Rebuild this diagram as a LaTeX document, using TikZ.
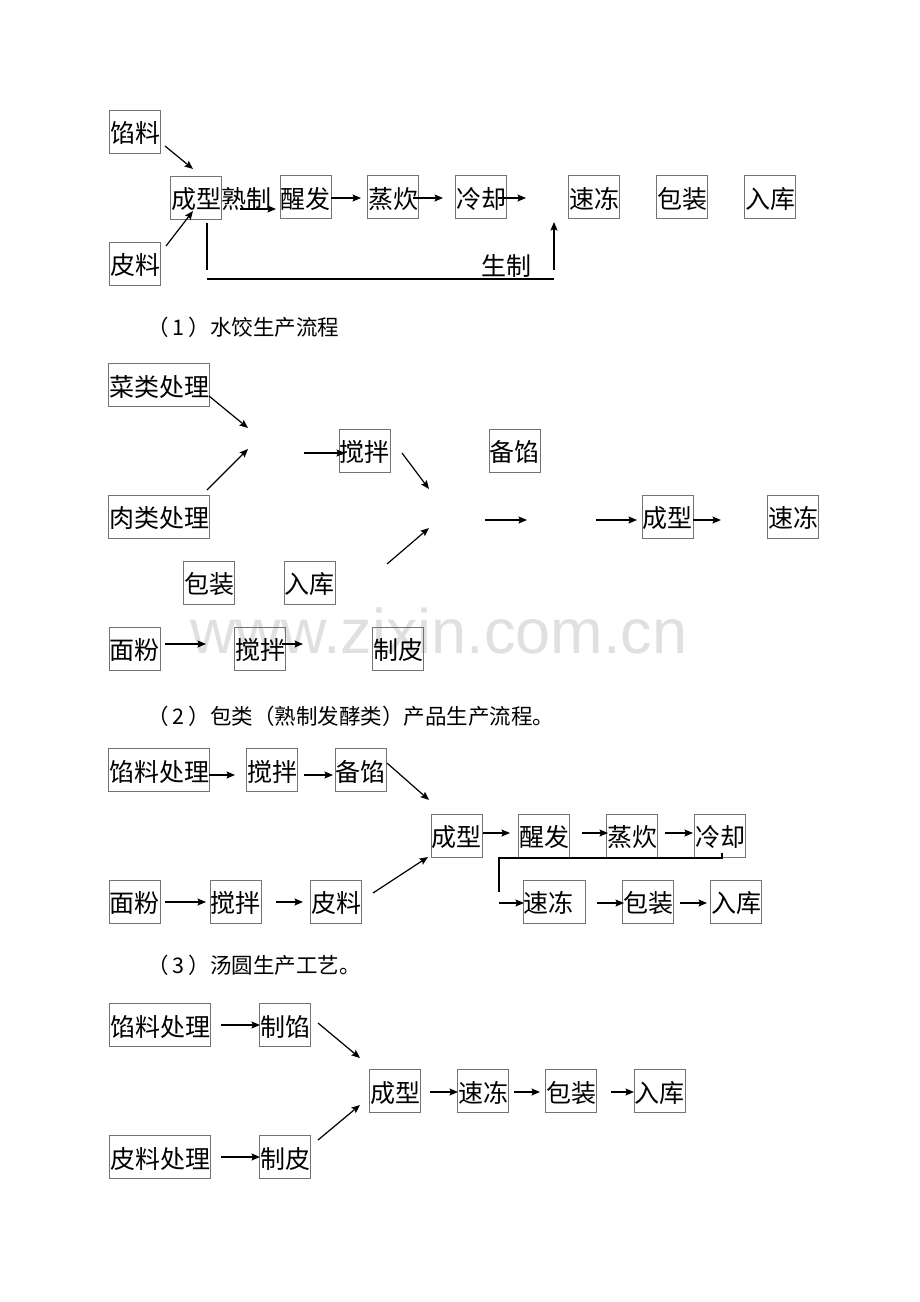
\documentclass[tikz,border=0pt]{standalone}
\usepackage{fontspec}
\newfontfamily\cjk{Noto Sans CJK SC}
\newfontfamily\wmfont{Liberation Sans}
\usetikzlibrary{arrows.meta}
\begin{document}
\begin{tikzpicture}[x=1pt,y=-1pt,
  bx/.style={draw=black!55, line width=0.9pt, inner xsep=0.5pt, inner ysep=0pt,
    text height=24pt, text depth=2pt,
    minimum height=43pt, minimum width=50pt, font=\cjk\fontsize{25}{25}\selectfont},
  wide/.style={minimum width=100pt},
  lbl/.style={inner sep=0pt, text height=24pt, text depth=2pt, font=\cjk\fontsize{25}{25}\selectfont},
  capt/.style={inner sep=0pt, anchor=west, font=\cjk\fontsize{21.5}{21.5}\selectfont},
  arr/.style={-{Stealth[length=8.5pt,width=7pt,inset=1.5pt]}, line width=1.2pt},
  ln/.style={line width=1.2pt}]
\fill[white] (0,0) rectangle (920,1302);
\useasboundingbox (0,0) rectangle (920,1302);
% watermark
\node[anchor=base west, inner sep=0pt, text=black!12, font=\wmfont\fontsize{63}{63}\selectfont] (wm) at (190,653) {www.zixin.com.cn};

% ---------------- Section 1 ----------------
\node[bx] (s1xl) at (135,131.5) {馅料};
\node[bx] (s1pl) at (135,263.5) {皮料};
\node[bx] (s1cx) at (196,197.5) {成型};
\node[lbl] (s1sz) at (246.5,197.5) {熟制};
\node[bx] (s1xf) at (305.5,197) {醒发};
\node[bx] (s1zc) at (393,197) {蒸炊};
\node[bx] (s1lq) at (481,197) {冷却};
\node[bx] (s1sd) at (594,197) {速冻};
\node[bx] (s1bz) at (682,197) {包装};
\node[bx] (s1rk) at (770,197) {入库};
\node[lbl] (s1sc) at (506,264) {生制};
\coordinate (a1) at (165,146);  \coordinate (b1) at (193,169);
\coordinate (a2) at (166,246);  \coordinate (b2) at (193,211);
\coordinate (a3) at (240,209);  \coordinate (b3) at (276,209);
\coordinate (a4) at (331,198);  \coordinate (b4) at (361,198);
\coordinate (a5) at (413,198);  \coordinate (b5) at (443,198);
\coordinate (a6) at (498,198);  \coordinate (b6) at (526,198);
\coordinate (v1) at (207,223);  \coordinate (v2) at (207,270);
\coordinate (h1) at (207,279);  \coordinate (h2) at (554,279);
\coordinate (u1) at (554,270);  \coordinate (u2) at (554,222);
\draw[arr] (a1) -- (b1);
\draw[arr] (a2) -- (b2);
\draw[arr] (a3) -- (b3);
\draw[arr] (a4) -- (b4);
\draw[arr] (a5) -- (b5);
\draw[arr] (a6) -- (b6);
\draw[ln] (v1) -- (v2);
\draw[ln] (h1) -- (h2);
\draw[arr] (u1) -- (u2);
\node[capt] (cap1) at (147,327) {（\hspace{4pt}1\hspace{4pt}）水饺生产流程};

% ---------------- Section 2 ----------------
\node[bx,wide] (s2cl) at (159,385) {菜类处理};
\node[bx,wide] (s2rl) at (159,516.5) {肉类处理};
\node[bx] (s2jb) at (364.5,450.5) {搅拌};
\node[bx] (s2bx) at (514.5,450.5) {备馅};
\node[bx] (s2cx) at (667.5,516.5) {成型};
\node[bx] (s2sd) at (793,516.5) {速冻};
\node[bx] (s2bz) at (209,582.5) {包装};
\node[bx] (s2rk) at (309.5,582.5) {入库};
\node[bx] (s2mf) at (134.5,648.5) {面粉};
\node[bx] (s2jc) at (260,648.5) {搅拌};
\node[bx] (s2zp) at (398,648.5) {制皮};
\coordinate (c1) at (209,396); \coordinate (d1) at (248,428);
\coordinate (c2) at (207,490); \coordinate (d2) at (248,449);
\coordinate (c3) at (304,453); \coordinate (d3) at (345,453);
\coordinate (c4) at (402,453); \coordinate (d4) at (429,489);
\coordinate (c5) at (387,564); \coordinate (d5) at (429,528);
\coordinate (c6) at (485,520); \coordinate (d6) at (527,520);
\coordinate (c7) at (596,520); \coordinate (d7) at (637,520);
\coordinate (c8) at (693,520); \coordinate (d8) at (721,520);
\coordinate (c9) at (165,644); \coordinate (d9) at (206,644);
\coordinate (c10) at (282,644); \coordinate (d10) at (303,644);
\foreach \i in {1,...,10} {\draw[arr] (c\i) -- (d\i);}
\node[capt] (cap2) at (147,716) {（\hspace{4pt}2\hspace{4pt}）包类（熟制发酵类）产品生产流程。};

% ---------------- Section 3 ----------------
\node[bx,wide] (s3xl) at (159,770) {馅料处理};
\node[bx] (s3jb) at (272,770) {搅拌};
\node[bx] (s3bx) at (360.5,770) {备馅};
\node[bx] (s3cx) at (456.5,835.5) {成型};
\node[bx] (s3xf) at (544,835.5) {醒发};
\node[bx] (s3zc) at (632,835.5) {蒸炊};
\node[bx] (s3lq) at (720,835.5) {冷却};
\node[bx] (s3mf) at (134.5,901.5) {面粉};
\node[bx] (s3jc) at (235.5,901.5) {搅拌};
\node[bx] (s3pl) at (336,901.5) {皮料};
\node[bx, minimum width=62pt, text width=61pt, align=left] (s3sd) at (554,901.5) {速冻};
\node[bx] (s3bz) at (648,901.5) {包装};
\node[bx] (s3rk) at (736,901.5) {入库};
\coordinate (e1) at (209,775); \coordinate (f1) at (235,775);
\coordinate (e2) at (304,775); \coordinate (f2) at (333,775);
\coordinate (e3) at (387,763); \coordinate (f3) at (429,800);
\coordinate (e4) at (165,902); \coordinate (f4) at (206,902);
\coordinate (e5) at (276,902); \coordinate (f5) at (303,902);
\coordinate (e6) at (373,893); \coordinate (f6) at (428,857);
\coordinate (e7) at (483,833); \coordinate (f7) at (510,833);
\coordinate (e8) at (582,833); \coordinate (f8) at (608,833);
\coordinate (e9) at (665,833); \coordinate (f9) at (693,833);
\coordinate (e10) at (499,903); \coordinate (f10) at (524,903);
\coordinate (e11) at (597,903); \coordinate (f11) at (624,903);
\coordinate (e12) at (680,903); \coordinate (f12) at (707,903);
\foreach \i in {1,...,12} {\draw[arr] (e\i) -- (f\i);}
\coordinate (g1) at (722,853); \coordinate (g2) at (722,858);
\coordinate (g3) at (499,858); \coordinate (g4) at (499,892);
\draw[ln] (g1) -- (g2) -- (g3) -- (g4);
\node[capt] (cap3) at (147,965) {（\hspace{4pt}3\hspace{4pt}）汤圆生产工艺。};

% ---------------- Section 4 ----------------
\node[bx,wide] (s4xl) at (160,1025) {馅料处理};
\node[bx] (s4zx) at (285,1025) {制馅};
\node[bx] (s4cx) at (395,1091) {成型};
\node[bx] (s4sd) at (483,1091) {速冻};
\node[bx] (s4bz) at (571,1091) {包装};
\node[bx] (s4rk) at (659.5,1091) {入库};
\node[bx,wide] (s4pl) at (160,1157) {皮料处理};
\node[bx] (s4zp) at (285,1157) {制皮};
\coordinate (k1) at (221,1025); \coordinate (m1) at (260,1025);
\coordinate (k2) at (318,1023); \coordinate (m2) at (360,1058);
\coordinate (k3) at (430,1092); \coordinate (m3) at (458,1092);
\coordinate (k4) at (514,1092); \coordinate (m4) at (540,1092);
\coordinate (k5) at (611,1092); \coordinate (m5) at (634,1092);
\coordinate (k6) at (221,1157); \coordinate (m6) at (260,1157);
\coordinate (k7) at (318,1140); \coordinate (m7) at (360,1105);
\foreach \i in {1,...,7} {\draw[arr] (k\i) -- (m\i);}
\end{tikzpicture}
\end{document}
